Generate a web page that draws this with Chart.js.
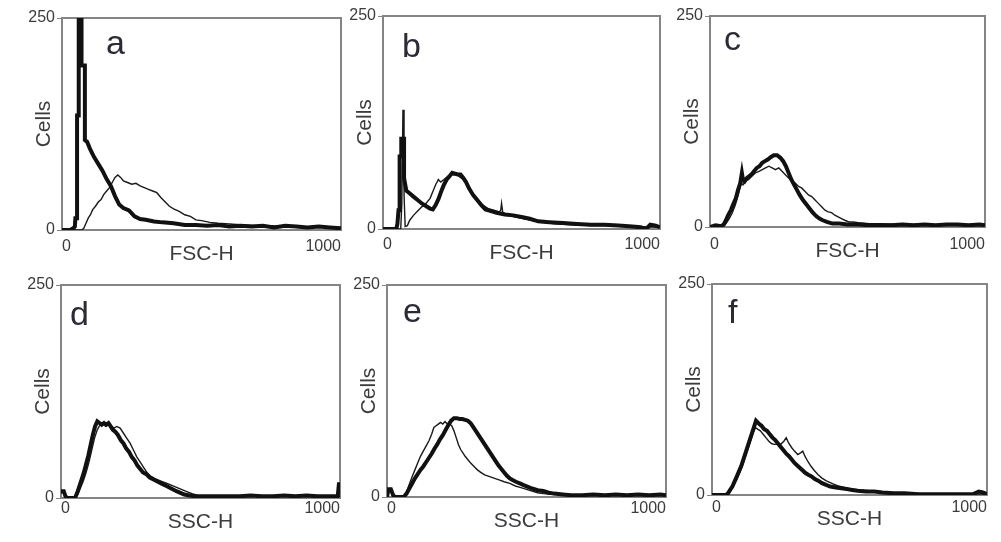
<!DOCTYPE html>
<html>
<head>
<meta charset="utf-8">
<script src="https://cdn.jsdelivr.net/npm/chart.js@4.4.1/dist/chart.umd.min.js"></script>
<style>
  html, body { margin: 0; padding: 0; background: #fff; }
  body { position: relative; width: 1001px; height: 542px; overflow: hidden; }
  canvas { position: absolute; }
</style>
</head>
<body>
<script>
// tick labels
const X_TICKS = [0, 1000];
const Y_TICKS = [0, 250];

// a: FSC-H
const aThickX = [0, 30, 40, 46, 48, 54, 54, 60, 60, 70, 70, 82, 82, 90, 100, 115, 130, 145, 160, 175, 190, 205, 220, 240, 260, 280, 300, 330, 360, 400, 440, 480, 520, 560, 600, 640, 680, 720, 760, 800, 840, 880, 920, 960, 1000];
const aThickY = [0, 0, 2, 4, 14, 14, 135, 135, 260, 260, 194, 194, 106, 104, 96, 86, 78, 70, 60, 52, 40, 30, 26, 23, 16, 13, 12, 10, 9, 8, 6, 6, 5, 6, 4, 5, 4, 5, 3, 5, 4, 3, 4, 3, 2];
const aThinX = [0, 70, 78, 86, 94, 102, 110, 120, 130, 140, 150, 160, 170, 180, 190, 200, 210, 220, 235, 250, 265, 280, 295, 310, 325, 340, 355, 370, 385, 400, 420, 440, 460, 480, 500, 530, 560, 600, 650, 700, 750, 800, 850, 900, 950, 1000];
const aThinY = [0, 0, 2, 8, 14, 18, 24, 28, 33, 36, 42, 46, 50, 56, 62, 65, 62, 58, 56, 54, 55, 52, 50, 48, 46, 44, 38, 33, 28, 25, 22, 18, 16, 12, 11, 9, 8, 7, 6, 5, 5, 4, 3, 4, 3, 2];

// b: FSC-H
const bThickX = [0, 48, 52, 56, 60, 60, 66, 66, 76, 76, 84, 96, 110, 125, 140, 155, 170, 180, 190, 200, 210, 220, 230, 240, 250, 260, 270, 280, 290, 300, 310, 325, 340, 355, 370, 390, 410, 440, 470, 500, 530, 560, 600, 650, 700, 750, 800, 850, 900, 930, 950, 965, 985, 1000];
const bThickY = [0, 0, 6, 22, 22, 85, 85, 106, 106, 60, 45, 42, 38, 34, 30, 27, 24, 23, 28, 35, 44, 52, 58, 62, 66, 65, 64, 64, 60, 55, 48, 40, 34, 28, 23, 21, 19, 17, 16, 14, 12, 9, 8, 7, 6, 5, 5, 4, 3, 2, 0, 5, 4, 2];
const bThinX = [0, 64, 68, 72, 76, 76, 80, 88, 96, 110, 125, 140, 155, 170, 180, 190, 200, 208, 220, 235, 250, 270, 290, 305, 320, 340, 360, 380, 400, 420, 425, 428, 432, 450, 480, 510, 540, 580, 620, 680, 750, 820, 900, 1000];
const bThinY = [0, 0, 30, 139, 139, 40, 3, 4, 10, 16, 21, 26, 30, 36, 44, 52, 58, 55, 58, 62, 64, 63, 58, 52, 44, 36, 28, 24, 22, 20, 22, 30, 20, 16, 14, 12, 10, 8, 6, 5, 4, 4, 3, 2];

// c: FSC-H
const cThickX = [0, 20, 40, 50, 58, 66, 76, 86, 94, 102, 110, 116, 120, 126, 134, 142, 150, 160, 170, 180, 190, 200, 210, 222, 232, 244, 256, 266, 276, 286, 296, 306, 316, 326, 338, 350, 362, 374, 386, 398, 410, 425, 445, 470, 500, 540, 580, 620, 660, 700, 740, 780, 820, 860, 900, 940, 980, 1000];
const cThickY = [0, 2, 1, 3, 8, 14, 20, 28, 34, 44, 52, 64, 56, 54, 58, 60, 62, 66, 70, 72, 76, 78, 80, 83, 85, 85, 82, 78, 72, 64, 56, 50, 44, 38, 32, 27, 22, 17, 13, 10, 8, 6, 4, 4, 3, 3, 2, 2, 2, 3, 2, 3, 2, 3, 3, 2, 3, 2];
const cThinX = [0, 50, 60, 70, 80, 92, 104, 114, 120, 130, 140, 152, 165, 178, 190, 202, 214, 226, 238, 250, 262, 274, 286, 298, 310, 322, 334, 346, 358, 370, 382, 394, 406, 418, 430, 442, 454, 466, 478, 490, 505, 520, 540, 580, 620, 680, 740, 800, 860, 920, 1000];
const cThinY = [0, 1, 5, 10, 16, 26, 40, 52, 50, 55, 56, 60, 64, 66, 68, 70, 72, 70, 68, 70, 66, 62, 58, 54, 52, 48, 46, 42, 38, 36, 32, 28, 24, 20, 18, 17, 14, 12, 10, 8, 6, 6, 5, 4, 4, 3, 3, 3, 2, 3, 2];

// d: SSC-H
const dThickX = [0, 10, 16, 24, 50, 58, 66, 74, 82, 90, 98, 106, 114, 122, 130, 138, 146, 154, 162, 170, 178, 186, 194, 204, 214, 224, 234, 244, 254, 264, 274, 284, 294, 306, 318, 330, 342, 354, 366, 378, 390, 402, 414, 428, 442, 460, 480, 520, 560, 600, 640, 680, 720, 760, 800, 840, 880, 920, 960, 992, 996, 1000];
const dThickY = [8, 8, 2, 0, 0, 6, 14, 22, 30, 40, 50, 62, 74, 84, 90, 88, 86, 88, 86, 88, 84, 80, 78, 74, 68, 64, 58, 54, 48, 44, 38, 34, 30, 28, 24, 22, 20, 18, 16, 14, 12, 10, 8, 6, 4, 3, 2, 2, 2, 2, 2, 3, 2, 2, 3, 2, 3, 2, 2, 2, 16, 16];
const dThinX = [0, 12, 20, 50, 60, 70, 80, 90, 100, 110, 120, 130, 140, 150, 160, 170, 180, 190, 200, 212, 224, 236, 248, 260, 272, 284, 296, 308, 320, 335, 350, 365, 380, 395, 410, 425, 440, 455, 470, 490, 520, 600, 700, 800, 900, 1000];
const dThinY = [6, 6, 0, 0, 4, 12, 20, 30, 42, 56, 70, 80, 86, 88, 84, 86, 84, 82, 84, 82, 76, 70, 64, 56, 48, 42, 36, 30, 26, 23, 21, 19, 17, 15, 13, 11, 9, 7, 5, 3, 2, 2, 2, 2, 2, 2];

// e: SSC-H
const eThickX = [0, 5, 14, 22, 30, 60, 70, 80, 90, 100, 110, 120, 130, 140, 150, 160, 170, 180, 190, 200, 210, 220, 230, 240, 250, 260, 270, 280, 290, 300, 310, 320, 330, 340, 350, 360, 370, 380, 390, 400, 410, 420, 430, 440, 450, 462, 476, 490, 505, 520, 540, 560, 580, 600, 630, 660, 700, 740, 780, 820, 860, 900, 940, 980, 1000];
const eThickY = [0, 9, 9, 2, 0, 0, 4, 10, 16, 22, 27, 32, 36, 41, 46, 51, 57, 62, 68, 73, 79, 85, 90, 93, 93, 92, 92, 91, 90, 87, 82, 77, 72, 67, 62, 57, 52, 47, 42, 37, 33, 29, 25, 22, 20, 18, 16, 14, 12, 10, 8, 7, 5, 4, 3, 2, 2, 3, 2, 3, 2, 3, 2, 3, 2];
const eThinX = [0, 5, 14, 22, 30, 60, 70, 80, 90, 100, 110, 120, 130, 140, 150, 160, 168, 176, 184, 192, 200, 208, 216, 224, 232, 240, 248, 256, 264, 272, 280, 290, 300, 312, 324, 336, 350, 368, 386, 404, 420, 440, 460, 480, 500, 520, 540, 560, 600, 650, 700, 800, 900, 1000];
const eThinY = [0, 7, 7, 1, 0, 0, 6, 15, 24, 32, 40, 48, 54, 60, 66, 74, 82, 84, 86, 88, 86, 89, 86, 86, 84, 78, 70, 62, 56, 52, 48, 44, 40, 36, 32, 29, 26, 24, 22, 20, 18, 16, 13, 11, 9, 7, 5, 4, 3, 2, 2, 2, 2, 2];

// f: SSC-H
const fThickX = [0, 50, 58, 66, 74, 82, 90, 98, 106, 114, 122, 130, 138, 146, 154, 160, 166, 172, 180, 190, 200, 210, 220, 230, 240, 250, 260, 270, 280, 290, 300, 310, 320, 330, 340, 350, 362, 374, 386, 400, 415, 430, 450, 470, 490, 510, 530, 560, 590, 620, 660, 700, 750, 800, 850, 900, 950, 970, 985, 1000];
const fThickY = [0, 0, 2, 6, 10, 16, 22, 28, 34, 42, 50, 58, 66, 74, 82, 88, 86, 84, 82, 78, 76, 72, 68, 65, 61, 57, 53, 49, 46, 42, 38, 35, 32, 29, 26, 24, 22, 19, 17, 14, 12, 10, 9, 8, 7, 6, 5, 4, 4, 3, 2, 2, 1, 1, 1, 1, 1, 4, 3, 1];
const fThinX = [0, 55, 62, 70, 80, 90, 100, 110, 120, 130, 140, 150, 158, 166, 176, 186, 196, 206, 216, 226, 238, 250, 262, 270, 278, 290, 300, 312, 322, 330, 338, 348, 360, 372, 386, 400, 414, 428, 442, 456, 470, 490, 510, 530, 550, 570, 600, 630, 670, 720, 800, 900, 1000];
const fThinY = [0, 0, 3, 7, 12, 18, 26, 34, 44, 54, 64, 74, 80, 78, 76, 72, 68, 64, 61, 60, 60, 60, 64, 68, 62, 56, 52, 48, 50, 52, 46, 40, 34, 29, 24, 20, 17, 15, 13, 11, 10, 8, 7, 6, 6, 5, 4, 3, 2, 2, 1, 1, 1];

// plot box of each panel on the page: [left, top, right, bottom]
const panels = [
  { letter: "a", xTitle: "FSC-H", box: [62, 18, 341, 230], letterAt: [44, 36], tickGap: 7, thick: [aThickX, aThickY], thin: [aThinX, aThinY] },
  { letter: "b", xTitle: "FSC-H", box: [383, 16, 660, 229], letterAt: [19, 41], tickGap: 6, thick: [bThickX, bThickY], thin: [bThinX, bThinY] },
  { letter: "c", xTitle: "FSC-H", box: [710, 16, 985, 227], letterAt: [14, 34], tickGap: 8, thick: [cThickX, cThickY], thin: [cThinX, cThinY] },
  { letter: "d", xTitle: "SSC-H", box: [61, 285, 340, 498], letterAt: [9, 40], tickGap: 1, thick: [dThickX, dThickY], thin: [dThinX, dThinY] },
  { letter: "e", xTitle: "SSC-H", box: [387, 285, 666, 497], letterAt: [16, 37], tickGap: 2, thick: [eThickX, eThickY], thin: [eThinX, eThinY] },
  { letter: "f", xTitle: "SSC-H", box: [712, 284, 987, 495], letterAt: [16, 39], tickGap: 3, thick: [fThickX, fThickY], thin: [fThinX, fThinY] },
];

const TEXT = "#3c3c3c";
const FONT = "'Liberation Sans', Arial, sans-serif";

function toPoints(xs, ys) {
  return xs.map((x, i) => ({ x: x, y: ys[i] }));
}

const framePlugin = {
  id: "frame",
  beforeDatasetsDraw(chart) {
    const { ctx, chartArea: a } = chart;
    ctx.save();
    ctx.strokeStyle = "#858585";
    ctx.lineWidth = 2;
    ctx.strokeRect(a.left, a.top, a.right - a.left, a.bottom - a.top);
    ctx.restore();
  },
};

const letterPlugin = {
  id: "letter",
  afterDatasetsDraw(chart, args, opts) {
    const { ctx, chartArea: a } = chart;
    ctx.save();
    ctx.fillStyle = "#2b2b35";
    ctx.font = "34px " + FONT;
    ctx.textBaseline = "alphabetic";
    ctx.fillText(opts.text, a.left + opts.dx, a.top + opts.dy);
    ctx.restore();
  },
};

function makeChart(p) {
  const [l, t, r, b] = p.box;
  const canvas = document.createElement("canvas");
  canvas.width = r - l + 70;
  canvas.height = b - t + 52;
  canvas.style.left = (l - 45) + "px";
  canvas.style.top = (t - 12) + "px";
  document.body.appendChild(canvas);

  const tickFont = { family: FONT, size: 16 };
  const titleFont = { family: FONT, size: 21 };

  new Chart(canvas, {
    type: "line",
    data: {
      datasets: [
        { data: toPoints(p.thick[0], p.thick[1]), borderColor: "#111", borderWidth: 4, pointRadius: 0, tension: 0, fill: false },
        { data: toPoints(p.thin[0], p.thin[1]), borderColor: "#1a1a1a", borderWidth: 1.4, pointRadius: 0, tension: 0, fill: false },
      ],
    },
    options: {
      responsive: false,
      animation: false,
      devicePixelRatio: 1,
      layout: { padding: { left: 5, top: 12, right: 25, bottom: 0 } },
      plugins: {
        legend: { display: false },
        tooltip: { enabled: false },
        letter: { text: p.letter, dx: p.letterAt[0], dy: p.letterAt[1] },
      },
      scales: {
        x: {
          type: "linear",
          min: 0,
          max: 1000,
          afterFit: (s) => { s.height = 40; },
          afterBuildTicks: (s) => { s.ticks = X_TICKS.map((v) => ({ value: v })); },
          grid: { display: false, drawTicks: false },
          border: { display: false },
          ticks: { align: "inner", maxRotation: 0, padding: p.tickGap, font: tickFont, color: TEXT, callback: (v) => String(v) },
          title: { display: true, text: p.xTitle, font: titleFont, color: TEXT, padding: { top: 0, bottom: 3 } },
        },
        y: {
          min: 0,
          max: 250,
          afterFit: (s) => { s.width = 40; },
          afterBuildTicks: (s) => { s.ticks = Y_TICKS.map((v) => ({ value: v })); },
          grid: { drawOnChartArea: false, tickLength: 5, color: "#858585" },
          border: { display: false },
          ticks: { padding: 2, font: tickFont, color: TEXT, callback: (v) => String(v) },
          title: { display: true, text: "Cells", font: titleFont, color: TEXT, padding: { top: 10, bottom: 0 } },
        },
      },
    },
    plugins: [framePlugin, letterPlugin],
  });
}

panels.forEach(makeChart);
</script>
</body>
</html>
